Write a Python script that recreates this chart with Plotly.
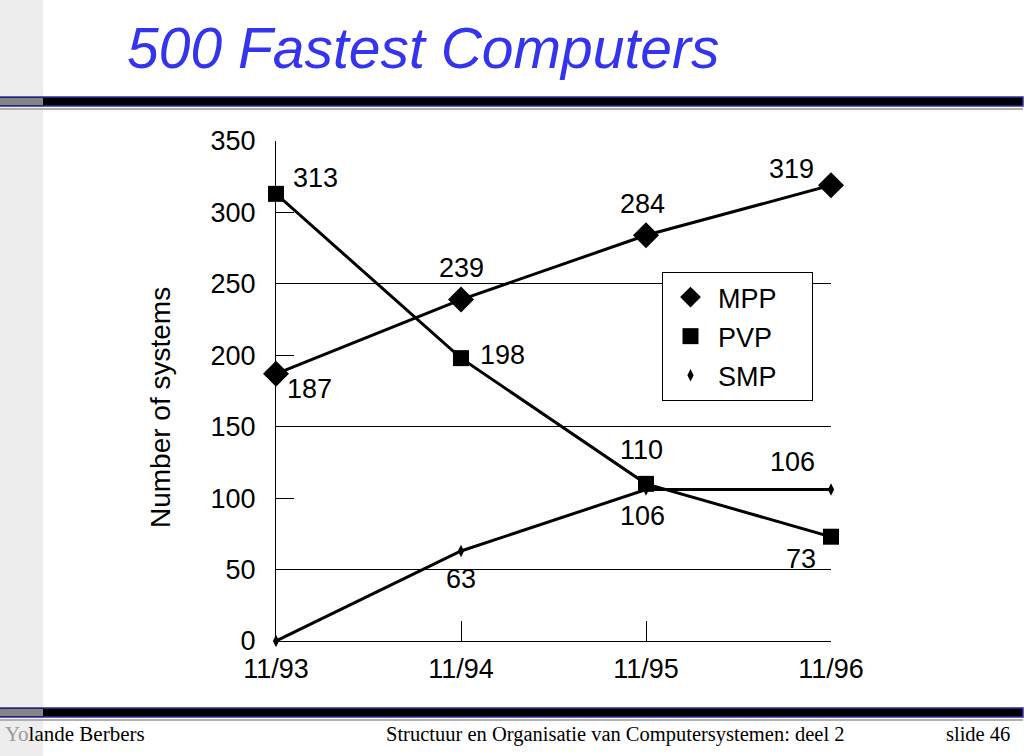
import plotly.graph_objects as go

# ---- data ----
periods = ["11/93", "11/94", "11/95", "11/96"]
mpp = [187, 239, 284, 319]
pvp = [313, 198, 110, 73]
smp = [0, 63, 106, 106]
mpp_labels = ["187", "239", "284", "319"]
pvp_labels = ["313", "198", "110", "73"]
smp_labels = ["", "63", "106", "106"]
y_ticks = [0, 50, 100, 150, 200, 250, 300, 350]
y_grid = [50, 150, 250, 350]
series_names = ["MPP", "PVP", "SMP"]

title_text = "500 Fastest Computers"
y_title = "Number of systems"
footer_left = "<span style='color:#9a9a9a'>Yo</span>lande Berbers"
footer_mid = "Structuur en Organisatie van Computersystemen: deel 2"
footer_right = "slide 46"

# ---- geometry helpers (pixel -> paper) ----
L, R, T, B = 276, 831, 141, 641
W, H = R - L, B - T


def px(x):
    return (x - L) / W


def py(y):
    return (B - y) / H


SANS = "Liberation Sans, Arial, sans-serif"
SERIF = "Liberation Serif, Times New Roman, serif"

fig = go.Figure()

series = [mpp, pvp, smp]
markers = [dict(symbol="diamond", size=20, color="black"),
           dict(symbol="square", size=16, color="black"),
           dict(symbol="diamond-tall", size=9, color="black")]

# connecting lines
for vals in series:
    fig.add_trace(go.Scatter(
        x=periods, y=vals, mode="lines", showlegend=False, hoverinfo="skip",
        line=dict(color="black", width=3),
    ))
# markers (carry the legend)
for i, (vals, name, mk) in enumerate(zip(series, series_names, markers)):
    fig.add_trace(go.Scatter(
        x=periods, y=vals, mode="markers", name=name + "&nbsp;" * 4,
        legendgroup=name, marker=mk, cliponaxis=False,
    ))

# data labels (offsets in pixels)
mpp_off = [(33, 15), (0, -32), (-4, -31), (-40, -16)]
pvp_off = [(39, -16), (41, -3), (-5, -34), (-30, 22)]
smp_off = [(0, 0), (0, 28), (-4, 26), (-39, -28)]
annotations = []
for vals, labs, offs in [(mpp, mpp_labels, mpp_off), (pvp, pvp_labels, pvp_off), (smp, smp_labels, smp_off)]:
    for xv, yv, lab, (dx, dy) in zip(periods, vals, labs, offs):
        if not lab:
            continue
        annotations.append(dict(
            x=xv, y=yv, xref="x", yref="y", text=lab, showarrow=False,
            xshift=dx, yshift=-dy, font=dict(family=SANS, size=27, color="black"),
            xanchor="center", yanchor="middle",
        ))

# title
annotations.append(dict(
    x=px(423), y=py(48), xref="paper", yref="paper", text=f"<i>{title_text}</i>",
    showarrow=False, xanchor="center", yanchor="middle",
    font=dict(family=SANS, size=57, color="#3434ee"),
))
# y axis title
annotations.append(dict(
    x=px(160), y=py(408), xref="paper", yref="paper", text=y_title,
    showarrow=False, xanchor="center", yanchor="middle", textangle=-90,
    font=dict(family=SANS, size=28, color="black"),
))
# footer
annotations.append(dict(
    x=px(3), y=py(734), xref="paper", yref="paper", text=footer_left,
    showarrow=False, xanchor="left", yanchor="middle",
    font=dict(family=SERIF, size=21, color="black"),
))
annotations.append(dict(
    x=px(615), y=py(734), xref="paper", yref="paper", text=footer_mid,
    showarrow=False, xanchor="center", yanchor="middle",
    font=dict(family=SERIF, size=20.5, color="black"),
))
annotations.append(dict(
    x=px(1012), y=py(734), xref="paper", yref="paper", text=footer_right,
    showarrow=False, xanchor="right", yanchor="middle",
    font=dict(family=SERIF, size=20.5, color="black"),
))

shapes = []
# left grey strip
shapes.append(dict(type="rect", xref="paper", yref="paper", x0=px(0), x1=px(43),
                   y0=py(756), y1=py(0), fillcolor="#ededed", line=dict(width=0), layer="below"))
for top in (97, 708):
    shapes.append(dict(type="rect", xref="paper", yref="paper", x0=px(0), x1=px(1023),
                       y0=py(top + 9), y1=py(top), fillcolor="black",
                       line=dict(color="#2e2ea8", width=1.5), layer="above"))
    shapes.append(dict(type="rect", xref="paper", yref="paper", x0=px(0), x1=px(43),
                       y0=py(top + 8), y1=py(top + 1), fillcolor="#858585",
                       line=dict(width=0), layer="above"))
    shapes.append(dict(type="line", xref="paper", yref="paper", x0=px(0), x1=px(1023),
                       y0=py(top + 12), y1=py(top + 12), line=dict(color="#b0b0b0", width=2),
                       layer="above"))

fig.update_layout(
    width=1024, height=756,
    margin=dict(l=L, r=1024 - R, t=T, b=756 - B),
    paper_bgcolor="white", plot_bgcolor="white",
    showlegend=True,
    legend=dict(
        x=px(662), y=py(272), xanchor="left", yanchor="top",
        bgcolor="white", bordercolor="black", borderwidth=1,
        font=dict(family=SANS, size=27, color="black"),
        traceorder="grouped", tracegroupgap=1, itemsizing="trace",
        itemwidth=45,
    ),
    annotations=annotations,
    shapes=shapes,
    xaxis=dict(
        type="category", range=[0, 3], showgrid=False, zeroline=False,
        showline=True, linecolor="black", linewidth=1,
        ticks="inside", ticklen=20, tickcolor="black", tickwidth=1,
        ticklabelstandoff=4,
        tickfont=dict(family=SANS, size=27, color="black"),
    ),
    yaxis=dict(
        range=[0, 350], tickvals=y_ticks, showgrid=False, zeroline=False,
        showline=True, linecolor="black", linewidth=1,
        ticks="inside", ticklen=18, tickcolor="black", tickwidth=1,
        ticklabelstandoff=14,
        tickfont=dict(family=SANS, size=27, color="black"),
        minor=dict(tickvals=y_grid, showgrid=True, gridcolor="black", gridwidth=1, ticks=""),
    ),
)

fig.write_html(
    "out.html",
    config={"displayModeBar": False},
    post_script="document.body.style.margin='0';document.body.style.overflow='hidden';",
)
